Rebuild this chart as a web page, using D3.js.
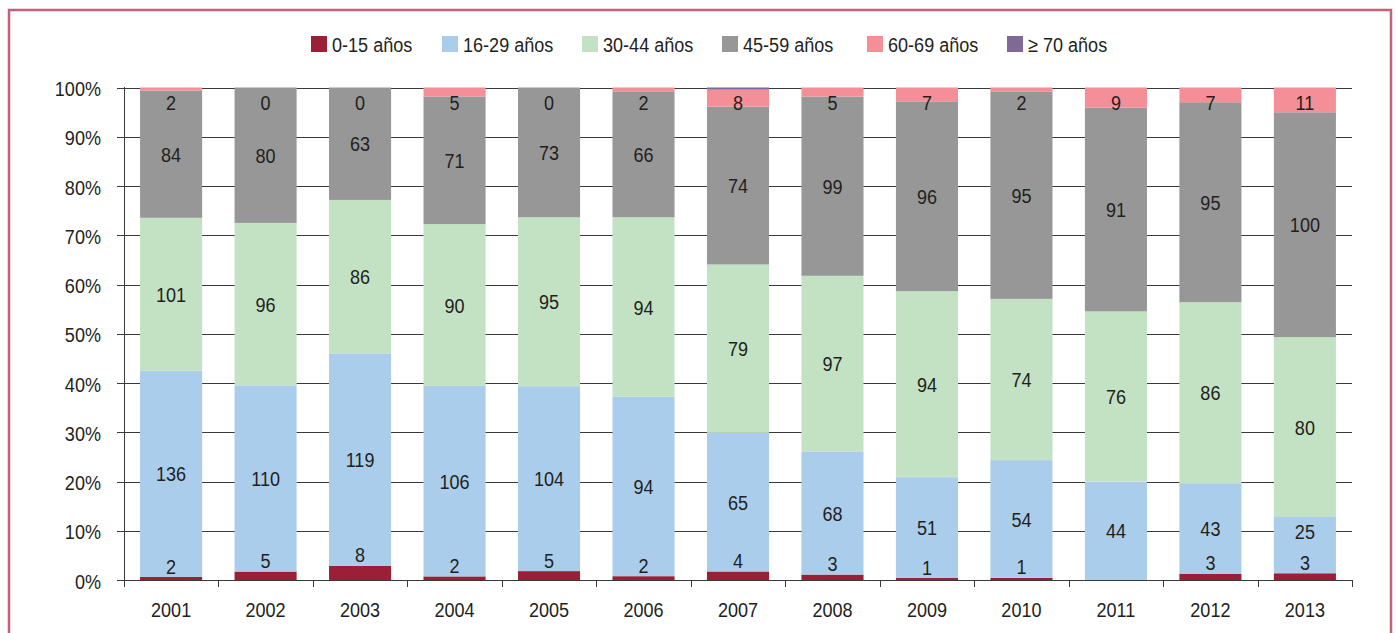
<!DOCTYPE html>
<html>
<head>
<meta charset="utf-8">
<script src="https://cdn.jsdelivr.net/npm/d3@7"></script>
<style>
  html, body { margin: 0; padding: 0; background: #fff; }
  svg text { font-family: "Liberation Sans", Arial, sans-serif; font-size: 21px; fill: #231f20; }
</style>
</head>
<body>
<svg id="chart" width="1396" height="633"></svg>
<script>
const years = ['2001', '2002', '2003', '2004', '2005', '2006', '2007', '2008', '2009', '2010', '2011', '2012', '2013'];
const seriesNames = ['0-15 años', '16-29 años', '30-44 años', '45-59 años', '60-69 años', '≥ 70 años'];
const seriesColors = ['#9b1f36', '#abcdec', '#c3e2c3', '#979797', '#f48f98', '#7f6a97'];

const age0_15 = [2, 5, 8, 2, 5, 2, 4, 3, 1, 1, null, 3, 3];
const age16_29 = [136, 110, 119, 106, 104, 94, 65, 68, 51, 54, 44, 43, 25];
const age30_44 = [101, 96, 86, 90, 95, 94, 79, 97, 94, 74, 76, 86, 80];
const age45_59 = [84, 80, 63, 71, 73, 66, 74, 99, 96, 95, 91, 95, 100];
const age60_69 = [2, 0, 0, 5, 0, 2, 8, 5, 7, 2, 9, 7, 11];
const age70 = [0, 0, 0, 0, 0, 0, 1, 0, 0, 0, 0, 0, 0];

const yTicks = [0, 0.1, 0.2, 0.3, 0.4, 0.5, 0.6, 0.7, 0.8, 0.9, 1];

const seriesValues = [age0_15, age16_29, age30_44, age45_59, age60_69, age70];
const rows = years.map((yr, i) => {
  const r = { year: yr };
  seriesNames.forEach((s, k) => { r[s] = seriesValues[k][i] || 0; });
  return r;
});

const NARROW = 0.86; // letra algo estrecha, como la del original

const svg = d3.select('#chart');

function addText(parent, tx, ty, str, anchor) {
  return parent.append('text')
    .attr('transform', `translate(${tx},${ty}) scale(${NARROW},1)`)
    .attr('dy', '0.36em')
    .attr('text-anchor', anchor || 'middle')
    .text(str);
}

// marco exterior
svg.append('rect')
  .attr('x', 9).attr('y', 10)
  .attr('width', 1382).attr('height', 640)
  .attr('fill', 'none')
  .attr('stroke', '#c4607a')
  .attr('stroke-width', 2.5);

const x = d3.scaleBand().domain(years).range([124, 1352]).paddingInner(0.343).paddingOuter(0.17);
const y = d3.scaleLinear().domain([0, 1]).range([580, 87.5]);

const stack = d3.stack().keys(seriesNames).offset(d3.stackOffsetExpand);
const stacked = stack(rows);

// rejilla
svg.append('g')
  .selectAll('line')
  .data(yTicks.slice(1))
  .enter()
  .append('line')
  .attr('x1', 117).attr('x2', 1352)
  .attr('y1', d => Math.round(y(d)) + 0.5)
  .attr('y2', d => Math.round(y(d)) + 0.5)
  .attr('stroke', '#3a3a3a')
  .attr('stroke-width', 1);

// barras
const layers = svg.append('g')
  .selectAll('g')
  .data(stacked)
  .enter()
  .append('g')
  .attr('fill', (d, k) => seriesColors[k]);

layers.selectAll('rect')
  .data(d => d)
  .enter()
  .append('rect')
  .attr('x', d => x(d.data.year))
  .attr('width', x.bandwidth())
  .attr('y', d => y(d[1]))
  .attr('height', d => y(d[0]) - y(d[1]));

// etiquetas de datos
const labels = svg.append('g');
years.forEach((yr, i) => {
  let prevY = null;
  stacked.forEach((layer, k) => {
    if (k === 5) return;
    const d = layer[i];
    const v = seriesValues[k][i];
    let cy = (y(d[0]) + y(d[1])) / 2;
    if (k === 0) cy = y(d[1]) - 11;
    if (k === 4) cy = Math.max(cy, y(1) + 15);
    if (prevY !== null && prevY - cy < 31) cy = prevY - 31;
    if (v === null) return;
    prevY = cy;
    addText(labels, x(yr) + x.bandwidth() / 2, cy, v);
  });
});

// eje Y
const yAxis = svg.append('g');
yAxis.append('line')
  .attr('x1', 124.5).attr('x2', 124.5)
  .attr('y1', 87).attr('y2', 580)
  .attr('stroke', '#3a3a3a');
yAxis.selectAll('line.tick')
  .data(yTicks)
  .enter()
  .append('line')
  .attr('class', 'tick')
  .attr('x1', 117).attr('x2', 124)
  .attr('y1', d => Math.round(y(d)) + 0.5)
  .attr('y2', d => Math.round(y(d)) + 0.5)
  .attr('stroke', '#3a3a3a');
yTicks.forEach(t => addText(yAxis, 101, y(t) + 1, d3.format('.0%')(t), 'end'));

// eje X
const xAxis = svg.append('g');
xAxis.append('line')
  .attr('x1', 117).attr('x2', 1352)
  .attr('y1', 580.5).attr('y2', 580.5)
  .attr('stroke', '#3a3a3a');
const step = x.step();
const bounds = years.map(yr => x(yr) - (step - x.bandwidth()) / 2).concat([1352]);
xAxis.selectAll('line.tick')
  .data(bounds)
  .enter()
  .append('line')
  .attr('class', 'tick')
  .attr('x1', d => Math.round(d) + 0.5)
  .attr('x2', d => Math.round(d) + 0.5)
  .attr('y1', 580).attr('y2', 587)
  .attr('stroke', '#3a3a3a');
years.forEach(yr => addText(xAxis, x(yr) + x.bandwidth() / 2, 609, yr));

// leyenda
const legendX = [311, 442, 582, 722, 867, 1007];
const legend = svg.append('g');
seriesNames.forEach((s, k) => {
  legend.append('rect')
    .attr('x', legendX[k]).attr('y', 36)
    .attr('width', 16).attr('height', 16)
    .attr('fill', seriesColors[k]);
  addText(legend, legendX[k] + 21, 44, s, 'start');
});
</script>
</body>
</html>
